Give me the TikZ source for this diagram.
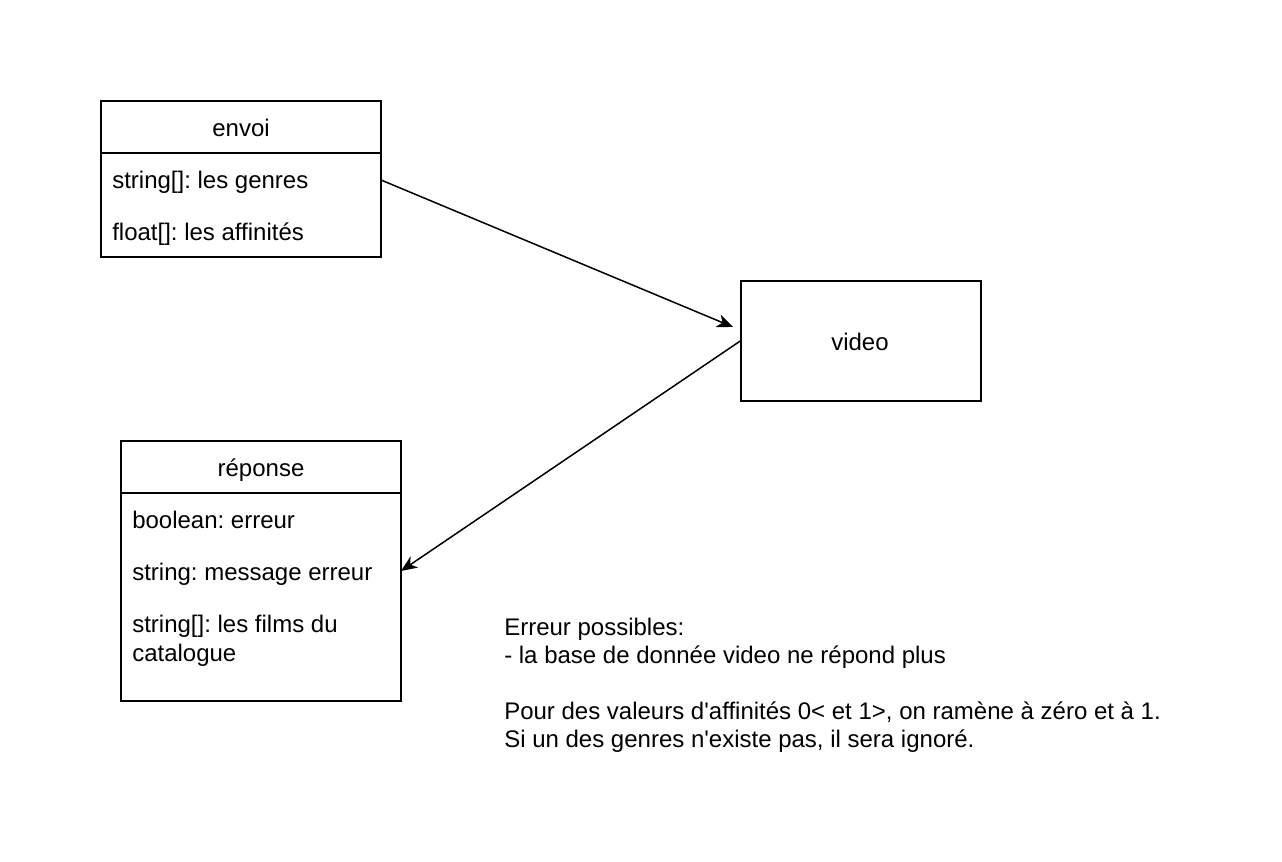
\documentclass[tikz,border=0pt]{standalone}
\usepackage{fontspec}
\setmainfont{Liberation Sans}
\usetikzlibrary{arrows.meta}
\frenchspacing
\begin{document}
\begin{tikzpicture}[x=0.75pt,y=-0.75pt,
  box/.style={draw,line width=1.5*0.75pt},
  lbl/.style={font=\fontsize{18pt}{21pt}\selectfont,inner sep=0pt,anchor=base},
  item/.style={lbl,anchor=base west},
  conn/.style={line width=1.5*0.75pt,-{Stealth[length=12pt,width=10pt,inset=3.5pt]}}]
\useasboundingbox (0,0) rectangle (1282,862);
% envoi
\draw[box] (101,101) rectangle (381,257);
\draw[box] (101,153) -- (381,153);
\node[lbl] (envoi) at (241,137) {envoi};
\node[item] (e1) at (112,189) {string[]: les genres};
\node[item] (e2) at (112,241) {float[]: les affinités};
\coordinate (envoiR) at (381,180);
% video
\node[box,minimum width=240*0.75pt,minimum height=120*0.75pt,inner sep=0pt] (video) at (861,341) {};
\node[lbl] (videot) at (860,351) {video};
% reponse
\draw[box] (121,441) rectangle (401,701);
\draw[box] (121,493) -- (401,493);
\node[lbl] (rep) at (261,477) {réponse};
\node[item] (r1) at (132,529) {boolean: erreur};
\node[item] (r2) at (132,581) {string: message erreur};
\node[item] (r3) at (132,633) {string[]: les films du};
\node[item] (r4) at (132,661) {catalogue};
\coordinate (repR) at (401,571);
\coordinate (videoIn) at (733,327);
% connectors
\draw[conn] (envoiR) -- (videoIn);
\draw[conn] (video.west) -- (repR);
% notes
\node[item] (n1) at (504,635) {Erreur possibles:};
\node[item] (n2) at (504,663) {- la base de donnée video ne répond plus};
\node[item] (n3) at (504,719) {Pour des valeurs d\textquotesingle affinités 0< et 1>, on ramène à zéro et à 1.};
\node[item] (n4) at (504,747) {Si un des genres n\textquotesingle existe pas, il sera ignoré.};
\end{tikzpicture}
\end{document}
